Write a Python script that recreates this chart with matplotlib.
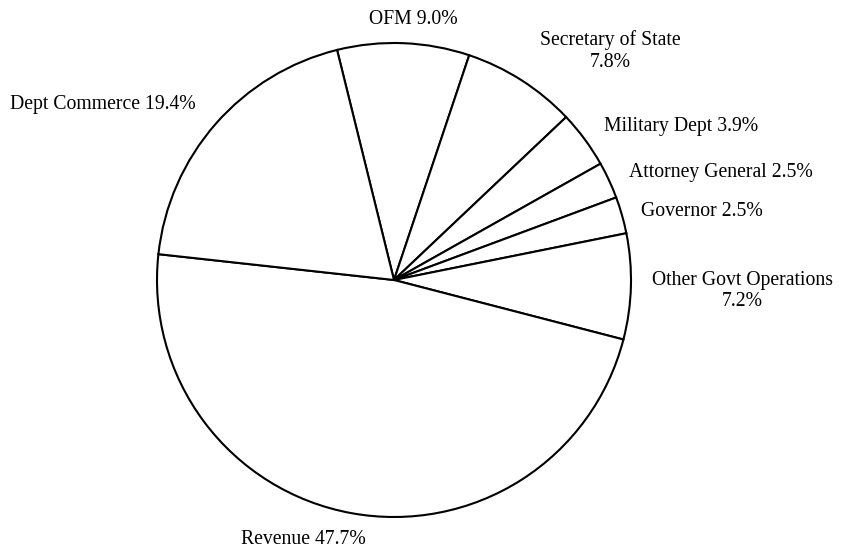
import matplotlib
matplotlib.use("Agg")
import matplotlib.pyplot as plt

# Share of spending by agency (percent)
agencies = ["OFM", "Secretary of State", "Military Dept", "Attorney General",
            "Governor", "Other Govt Operations", "Revenue", "Dept Commerce"]
shares = [9.0, 7.8, 3.9, 2.5, 2.5, 7.2, 47.7, 19.4]
label_texts = ["OFM 9.0%", "Secretary of State\n7.8%", "Military Dept 3.9%",
               "Attorney General 2.5%", "Governor 2.5%",
               "Other Govt Operations\n7.2%", "Revenue 47.7%", "Dept Commerce 19.4%"]

W, H = 848, 550
fig = plt.figure(figsize=(W / 100, H / 100), dpi=100)
ax = fig.add_axes([0, 0, 1, 1])

cx, cy, r = 394, H - 280, 237
ax.pie(shares, startangle=103.9, counterclock=False, center=(cx, cy), radius=r,
       colors=["white"] * len(shares),
       wedgeprops=dict(edgecolor="black", linewidth=1.5), frame=True)
ax.set_xlim(0, W)
ax.set_ylim(0, H)
ax.set_aspect("equal")
ax.axis("off")

# label anchor points (pixel positions from top-left)
label_pos = [(413, 20), (610, 51), (681, 126), (721, 173), (702, 212),
             (742, 291), (303, 540), (103, 104)]
for txt, (x, y) in zip(label_texts, label_pos):
    ax.text(x, H - y, txt, ha="center", va="center", fontsize=14.2,
            family="Liberation Serif", linespacing=1.15)

fig.savefig("out.png", dpi=100, facecolor="white")
